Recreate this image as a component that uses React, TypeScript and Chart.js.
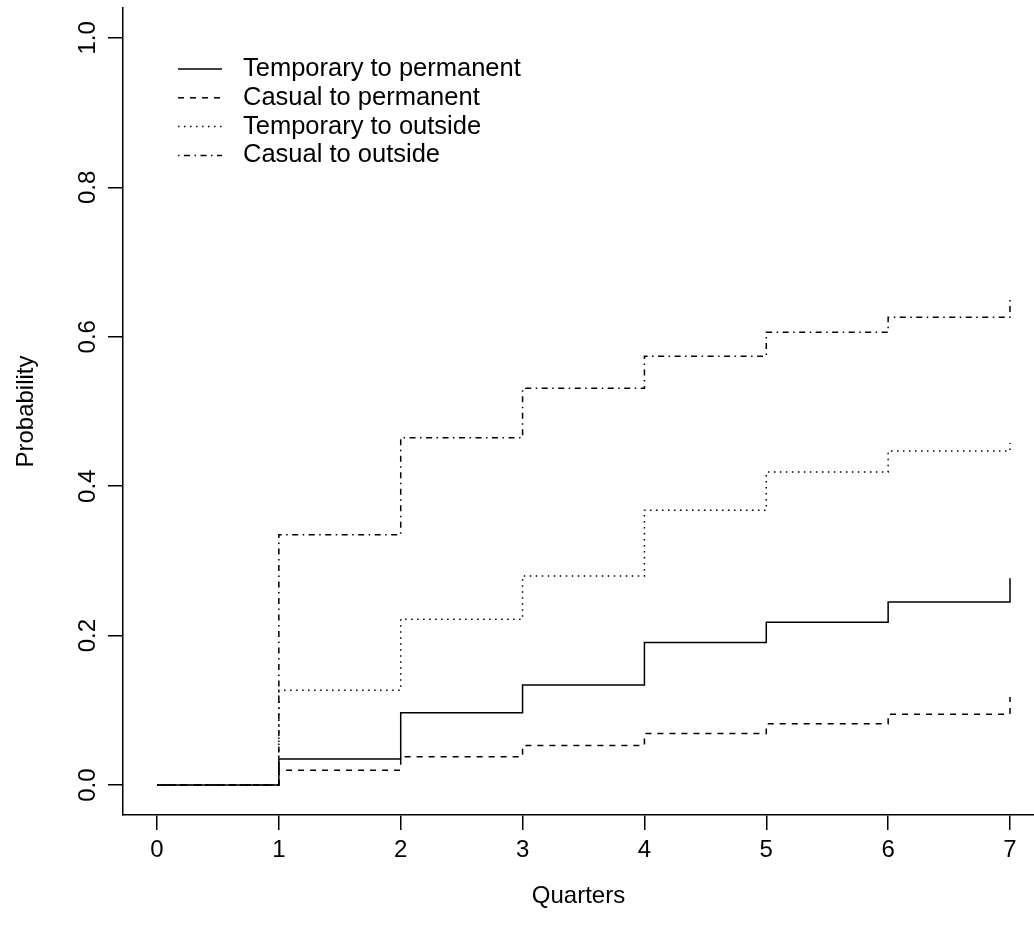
import React, { useEffect, useRef } from "react";
import { Chart, registerables } from "chart.js";

Chart.register(...registerables);

// ---- data ----
const quarters = [0, 1, 2, 3, 4, 5, 6, 7];
const tempToPermanent = [0, 0.035, 0.097, 0.134, 0.191, 0.218, 0.245, 0.277];
const casualToPermanent = [0, 0.02, 0.038, 0.053, 0.069, 0.082, 0.095, 0.118];
const tempToOutside = [0, 0.127, 0.222, 0.28, 0.368, 0.419, 0.447, 0.458];
const casualToOutside = [0, 0.335, 0.465, 0.531, 0.574, 0.606, 0.626, 0.652];
const seriesLabels = [
  "Temporary to permanent",
  "Casual to permanent",
  "Temporary to outside",
  "Casual to outside",
];
const xTickValues = [0, 1, 2, 3, 4, 5, 6, 7];
const xTickLabels = ["0", "1", "2", "3", "4", "5", "6", "7"];
const yTickValues = [0, 0.2, 0.4, 0.6, 0.8, 1.0];
const yTickLabels = ["0.0", "0.2", "0.4", "0.6", "0.8", "1.0"];
const xTitle = "Quarters";
const yTitle = "Probability";

const FONT_FAMILY = '"Liberation Sans", Arial, Helvetica, sans-serif';
const FONT_SIZE = 24;
const LEGEND_FONT_SIZE = 25.5;

const dashes: number[][] = [[], [6, 6], [1.5, 4.5], [1.5, 4.5, 6, 4.5]];
const seriesValues = [tempToPermanent, casualToPermanent, tempToOutside, casualToOutside];

const rStylePlugin = {
  id: "rStyle",
  afterDraw(chart: any) {
    const ctx = chart.ctx as CanvasRenderingContext2D;
    const yScale = chart.scales.y;
    ctx.save();
    ctx.fillStyle = "#000";
    ctx.font = `${FONT_SIZE}px ${FONT_FAMILY}`;
    ctx.textAlign = "center";
    ctx.textBaseline = "middle";
    // rotated y tick labels (R style, las = 0)
    yScale.ticks.forEach((t: any, i: number) => {
      const py = yScale.getPixelForValue(t.value);
      ctx.save();
      ctx.translate(88, py);
      ctx.rotate(-Math.PI / 2);
      ctx.fillText(yTickLabels[i], 0, 0);
      ctx.restore();
    });

    // legend (top-left, inside the plot)
    const x0 = 178;
    const x1 = 222;
    const textX = 243;
    const rowY0 = 69;
    const rowStep = 28.8;
    ctx.font = `${LEGEND_FONT_SIZE}px ${FONT_FAMILY}`;
    chart.data.datasets.forEach((ds: any, i: number) => {
      const ry = rowY0 + i * rowStep;
      ctx.save();
      ctx.strokeStyle = "#000";
      ctx.lineWidth = 1.5;
      ctx.setLineDash(ds.borderDash || []);
      ctx.beginPath();
      ctx.moveTo(x0, ry);
      ctx.lineTo(x1, ry);
      ctx.stroke();
      ctx.restore();
      ctx.textAlign = "left";
      ctx.fillText(ds.label, textX, ry);
    });
    ctx.restore();
  },
};

export default function App() {
  const canvasRef = useRef<HTMLCanvasElement | null>(null);

  useEffect(() => {
    if (!canvasRef.current) return;
    const datasets = seriesValues.map((vals, i) => ({
      label: seriesLabels[i],
      data: quarters.map((q, j) => ({ x: q, y: vals[j] })),
      borderColor: "#000",
      backgroundColor: "#000",
      borderWidth: 1.5,
      borderDash: dashes[i],
      pointRadius: 0,
      pointHoverRadius: 0,
      fill: false,
      stepped: "before" as const,
      tension: 0,
    }));

    const chart = new Chart(canvasRef.current, {
      type: "line",
      data: { datasets },
      plugins: [rStylePlugin],
      options: {
        animation: false,
        responsive: false,
        devicePixelRatio: 1,
        layout: { padding: { top: 8, left: 0, right: 0, bottom: 0 } },
        plugins: {
          legend: { display: false },
          tooltip: { enabled: false },
        },
        scales: {
          x: {
            type: "linear",
            min: -0.279,
            max: 7.197,
            afterBuildTicks: (scale: any) => {
              scale.ticks = xTickValues.map((v) => ({ value: v }));
            },
            afterFit: (scale: any) => {
              scale.height = 125;
            },
            ticks: {
              color: "#000",
              font: { family: FONT_FAMILY, size: FONT_SIZE },
              padding: 6,
              maxRotation: 0,
              autoSkip: false,
              callback: (_v: any, i: number) => xTickLabels[i],
            },
            grid: {
              drawOnChartArea: false,
              drawTicks: true,
              tickLength: 15,
              color: "#000",
              lineWidth: 1.5,
            },
            border: { display: true, color: "#000", width: 1.5 },
            title: {
              display: true,
              text: xTitle,
              color: "#000",
              font: { family: FONT_FAMILY, size: FONT_SIZE },
              padding: { top: 0, bottom: 29 },
            },
          },
          y: {
            type: "linear",
            min: -0.04,
            max: 1.04,
            afterBuildTicks: (scale: any) => {
              scale.ticks = yTickValues.map((v) => ({ value: v }));
            },
            afterFit: (scale: any) => {
              scale.width = 123;
            },
            ticks: { display: false },
            grid: {
              drawOnChartArea: false,
              drawTicks: true,
              tickLength: 15,
              color: "#000",
              lineWidth: 1.5,
            },
            border: { display: true, color: "#000", width: 1.5 },
            title: {
              display: true,
              text: yTitle,
              color: "#000",
              font: { family: FONT_FAMILY, size: FONT_SIZE },
              padding: { top: 12, bottom: 0 },
            },
          },
        },
      },
    });
    return () => chart.destroy();
  }, []);

  return (
    <div style={{ position: "absolute", left: 0, top: 0, width: 1034, height: 940, background: "#fff" }}>
      <canvas ref={canvasRef} width={1034} height={940} style={{ display: "block" }} />
    </div>
  );
}
